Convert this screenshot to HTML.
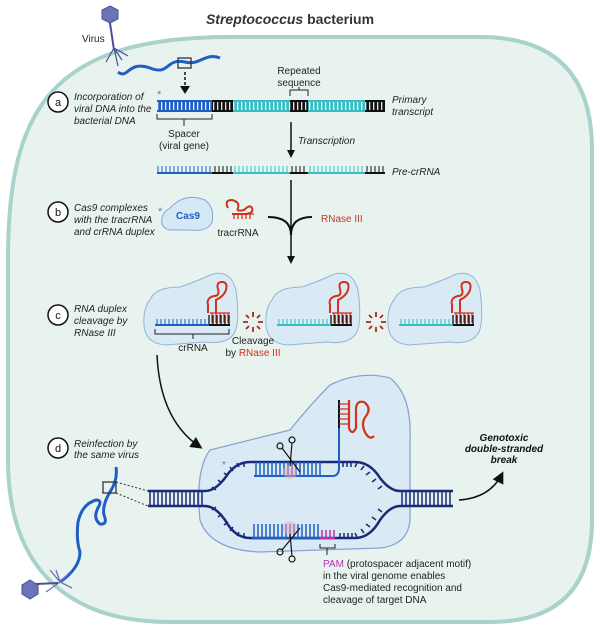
<!DOCTYPE html>
<html><head><meta charset="utf-8"><style>
html,body{margin:0;padding:0;background:#fff;}
svg{display:block;font-family:"Liberation Sans",sans-serif;}
.it{font-style:italic;font-size:10px;fill:#222;}
.t{font-size:10px;fill:#222;}
</style></head><body>
<svg width="600" height="633" viewBox="0 0 600 633" xmlns="http://www.w3.org/2000/svg">
<defs>
<pattern id="tk" width="4" height="20" patternUnits="userSpaceOnUse"><rect x="1" y="0" width="1.3" height="20" fill="#fff" opacity="0.9"/></pattern>
<marker id="ah" markerWidth="8" markerHeight="8" refX="6" refY="4" orient="auto"><path d="M0,0 L8,4 L0,8 z" fill="#111"/></marker>
</defs>
<!-- cell -->
<path d="M230,37 L480,37 Q592,37 592,150 L592,520 Q592,622 490,622 L170,622 C60,622 8,560 8,460 L8,260 C8,110 50,37 230,37 Z" fill="#e8f3f0" stroke="#a8d2cb" stroke-width="4"/>
<text x="290" y="24" text-anchor="middle" font-size="14" font-weight="bold" fill="#333"><tspan font-style="italic">Streptococcus</tspan> bacterium</text>

<!-- virus top -->
<polygon points="110,6 118,10 118,19 110,23 102,19 102,10" fill="#6d73b8" stroke="#4a4f97"/>
<line x1="110" y1="23" x2="114" y2="50" stroke="#4a4f97" stroke-width="2"/>
<path d="M114,48 L106,62 M114,48 L122,60 M114,48 L128,56 M114,48 L118,66" stroke="#4a4f97" stroke-width="1.2" fill="none"/>
<text x="82" y="42" class="t" fill="#555">Virus</text>
<path d="M118,72 C128,80 128,60 150,68 C170,76 165,58 185,62 C200,66 205,52 220,58" stroke="#1f5fc4" stroke-width="3" fill="none"/>
<rect x="178" y="58" width="13" height="10" fill="none" stroke="#333" stroke-width="1.3"/>
<line x1="185" y1="72" x2="185" y2="88" stroke="#111" stroke-width="1.5" stroke-dasharray="3,2"/>
<path d="M180,86 L185,94 L190,86z" fill="#111"/>

<!-- a -->
<circle cx="58" cy="102" r="10" fill="#fff" stroke="#111" stroke-width="1.5"/>
<text x="58" y="106" text-anchor="middle" font-size="11" fill="#111">a</text>
<text class="it"><tspan x="74" y="100">Incorporation of</tspan><tspan x="74" y="112">viral DNA into the</tspan><tspan x="74" y="124">bacterial DNA</tspan></text>
<text x="157" y="98" fill="#6d73b8" font-size="11">*</text>
<g>
<rect x="157" y="100" width="55" height="12" fill="#1f5fc4"/><rect x="212" y="100" width="21" height="12" fill="#111"/>
<rect x="233" y="100" width="57" height="12" fill="#35bfc4"/><rect x="290" y="100" width="18" height="12" fill="#111"/>
<rect x="308" y="100" width="57" height="12" fill="#35bfc4"/><rect x="365" y="100" width="20" height="12" fill="#111"/>
<rect x="157" y="102" width="228" height="8" fill="url(#tk)"/>
</g>
<text class="it"><tspan x="392" y="103">Primary</tspan><tspan x="392" y="115">transcript</tspan></text>
<text class="t" text-anchor="middle"><tspan x="299" y="74">Repeated</tspan><tspan x="299" y="86">sequence</tspan></text>
<path d="M290,96 L290,90 L308,90 L308,96 M299,90 L299,87" stroke="#222" fill="none"/>
<path d="M157,114 L157,119 L212,119 L212,114 M184,119 L184,126" stroke="#222" fill="none"/>
<text class="t" text-anchor="middle"><tspan x="184" y="137">Spacer</tspan><tspan x="184" y="149">(viral gene)</tspan></text>
<line x1="291" y1="122" x2="291" y2="151" stroke="#111" stroke-width="1.5"/>
<path d="M287,150 L291,158 L295,150z" fill="#111"/>
<text x="298" y="144" class="it">Transcription</text>
<!-- pre-crRNA -->
<g>
<rect x="157" y="172" width="55" height="2" fill="#1f5fc4"/><rect x="212" y="172" width="21" height="2" fill="#111"/>
<rect x="233" y="172" width="57" height="2" fill="#35bfc4"/><rect x="290" y="172" width="18" height="2" fill="#111"/>
<rect x="308" y="172" width="57" height="2" fill="#35bfc4"/><rect x="365" y="172" width="20" height="2" fill="#111"/>
<g stroke-width="1">
<path d="M158,172v-6M162,172v-6M166,172v-6M170,172v-6M174,172v-6M178,172v-6M182,172v-6M186,172v-6M190,172v-6M194,172v-6M198,172v-6M202,172v-6M206,172v-6M210,172v-6" stroke="#1f5fc4"/>
<path d="M215,172v-6M219,172v-6M223,172v-6M227,172v-6M231,172v-6M292,172v-6M296,172v-6M300,172v-6M304,172v-6M367,172v-6M371,172v-6M375,172v-6M379,172v-6M383,172v-6" stroke="#111"/>
<path d="M235,172v-6M239,172v-6M243,172v-6M247,172v-6M251,172v-6M255,172v-6M259,172v-6M263,172v-6M267,172v-6M271,172v-6M275,172v-6M279,172v-6M283,172v-6M287,172v-6M310,172v-6M314,172v-6M318,172v-6M322,172v-6M326,172v-6M330,172v-6M334,172v-6M338,172v-6M342,172v-6M346,172v-6M350,172v-6M354,172v-6M358,172v-6M362,172v-6" stroke="#35bfc4"/>
</g></g>
<text x="392" y="175" class="it">Pre-crRNA</text>
<!-- fork -->
<line x1="291" y1="180" x2="291" y2="258" stroke="#111" stroke-width="1.5"/>
<path d="M268,217 Q291,217 291,235 Q291,217 312,217" stroke="#111" stroke-width="2" fill="none"/>
<path d="M287,256 L291,264 L295,256z" fill="#111"/>
<text x="321" y="222" font-size="10" fill="#c0392b">RNase III</text>

<!-- b -->
<circle cx="58" cy="212" r="10" fill="#fff" stroke="#111" stroke-width="1.5"/>
<text x="58" y="216" text-anchor="middle" font-size="11" fill="#111">b</text>
<text class="it"><tspan x="74" y="211">Cas9 complexes</tspan><tspan x="74" y="223">with the tracrRNA</tspan><tspan x="74" y="235">and crRNA duplex</tspan></text>
<text x="158" y="215" fill="#6d73b8" font-size="11">*</text>
<path d="M170,208 Q185,192 205,200 Q215,208 212,222 Q208,232 190,230 L170,230 Q160,228 162,218 Q163,212 170,208Z" fill="#d5e8f6" stroke="#7ea8d6"/>
<text x="188" y="219" text-anchor="middle" font-size="10" font-weight="bold" fill="#1f5fc4">Cas9</text>
<path d="M228,208 Q224,200 232,200 Q240,202 238,208 Q236,212 244,210 Q250,204 252,208 Q254,213 246,214 L232,214" stroke="#d0321c" stroke-width="2" fill="none"/>
<path d="M234,214v5M238,214v5M242,214v5M246,214v5M250,214v5M232,214L254,214" stroke="#d0321c" stroke-width="1.3"/>
<text x="238" y="236" class="t" text-anchor="middle">tracrRNA</text>

<!-- c -->
<circle cx="58" cy="315" r="10" fill="#fff" stroke="#111" stroke-width="1.5"/>
<text x="58" y="319" text-anchor="middle" font-size="11" fill="#111">c</text>
<text class="it"><tspan x="74" y="312">RNA duplex</tspan><tspan x="74" y="324">cleavage by</tspan><tspan x="74" y="336">RNase III</tspan></text>
<g id="cx">
<path d="M150,300 Q155,287 180,287 Q200,280 210,275 Q230,268 236,290 Q240,320 235,332 Q228,345 205,342 L165,345 Q145,343 144,325 Q143,308 150,300Z" fill="#d9eaf5" stroke="#93b3d8"/>
<path d="M208,313 L208,305 Q206,298 214,296 Q220,296 218,289 Q216,282 222,282 Q228,282 226,290 Q224,296 216,300 L216,313" stroke="#d0321c" stroke-width="2" fill="none"/>
<path d="M210,313 L230,313 M212,313v10M216,313v10M220,313v10M224,313v10M228,313v10" stroke="#d0321c" stroke-width="1.3"/>
<path d="M209,325v-10M213,325v-10M217,325v-10M221,325v-10M225,325v-10M229,325v-10" stroke="#111" stroke-width="1.3"/>
<rect x="209" y="324" width="21" height="2" fill="#111"/>
</g>
<rect x="155" y="324" width="54" height="2" fill="#1f5fc4"/>
<path d="M157,325v-6M161,325v-6M165,325v-6M169,325v-6M173,325v-6M177,325v-6M181,325v-6M185,325v-6M189,325v-6M193,325v-6M197,325v-6M201,325v-6M205,325v-6" stroke="#1f5fc4"/>
<use href="#cx" x="122"/>
<rect x="277" y="324" width="54" height="2" fill="#35bfc4"/>
<path d="M279,325v-6M283,325v-6M287,325v-6M291,325v-6M295,325v-6M299,325v-6M303,325v-6M307,325v-6M311,325v-6M315,325v-6M319,325v-6M323,325v-6M327,325v-6" stroke="#35bfc4"/>
<use href="#cx" x="244"/>
<rect x="399" y="324" width="54" height="2" fill="#35bfc4"/>
<path d="M401,325v-6M405,325v-6M409,325v-6M413,325v-6M417,325v-6M421,325v-6M425,325v-6M429,325v-6M433,325v-6M437,325v-6M441,325v-6M445,325v-6M449,325v-6" stroke="#35bfc4"/>
<path d="M155,329 L155,334 L229,334 L229,329 M193,334 L193,339" stroke="#222" fill="none"/>
<text x="193" y="351" class="t" text-anchor="middle">crRNA</text>
<g stroke="#a3281b" stroke-width="1.8">
<path d="M253,312v5M253,327v5M243,322h5M258,322h5M246,315l3,3M260,315l-3,3M246,329l3,-3M260,329l-3,-3"/>
<path d="M376,312v5M376,327v5M366,322h5M381,322h5M369,315l3,3M383,315l-3,3M369,329l3,-3M383,329l-3,-3"/>
</g>
<text class="t" text-anchor="middle"><tspan x="253" y="344">Cleavage</tspan><tspan x="253" y="356">by <tspan fill="#d0321c">RNase III</tspan></tspan></text>

<!-- curved arrow -->
<path d="M157,355 Q160,420 200,447" stroke="#111" stroke-width="1.5" fill="none" marker-end="url(#ah)"/>

<!-- d -->
<circle cx="58" cy="448" r="10" fill="#fff" stroke="#111" stroke-width="1.5"/>
<text x="58" y="452" text-anchor="middle" font-size="11" fill="#111">d</text>
<text class="it"><tspan x="74" y="447">Reinfection by</tspan><tspan x="74" y="458">the same virus</tspan></text>

<!-- big blob -->
<path d="M210,450 Q250,440 290,430 Q310,405 330,385 Q360,370 390,378 Q412,395 410,440 L410,520 Q408,545 380,548 L260,552 Q210,550 200,520 Q195,470 210,450Z" fill="#d9eaf5" stroke="#8ba3d3" stroke-width="1.3"/>
<text x="222" y="468" fill="#6d73b8" font-size="10">*</text>
<!-- DNA duplex -->
<g stroke="#1a2a78" stroke-width="2.5" fill="none">
<path d="M148,491 L205,491 Q215,491 225,478 Q235,462 250,462 L355,462 Q370,462 380,478 Q390,491 400,491 L453,491"/>
<path d="M148,506 L205,506 Q215,506 225,520 Q235,538 250,538 L355,538 Q370,538 380,520 Q390,506 400,506 L453,506"/>
</g>
<g stroke="#1a2a78" stroke-width="1.5">
<path d="M150,491v15M154,491v15M158,491v15M162,491v15M166,491v15M170,491v15M174,491v15M178,491v15M182,491v15M186,491v15M190,491v15M194,491v15M198,491v15M202,491v15"/>
<path d="M402,491v15M406,491v15M410,491v15M414,491v15M418,491v15M422,491v15M426,491v15M430,491v15M434,491v15M438,491v15M442,491v15M446,491v15M450,491v15"/>
<path d="M212,487l4,3M218,480l4,3M224,473l4,3M230,467l3,4M237,463l2,4M244,462v5M343,462v5M347,462v5M351,462v5M357,463l-2,4M364,466l-3,4M370,472l-4,3M376,479l-4,3M382,486l-4,3"/>
<path d="M212,510l4,-3M218,517l4,-3M224,525l4,-3M230,531l3,-4M237,536l2,-4M244,538v-5M340,538v-5M344,538v-5M348,538v-5M352,538v-5M357,537l-2,-4M364,533l-3,-4M370,527l-4,-3M376,520l-4,-3M382,512l-4,-3"/>
</g>
<!-- crRNA top -->
<path d="M254,476 L332,476 Q339,476 339,468 L339,425" stroke="#1f5fc4" stroke-width="2" fill="none"/>
<path d="M256,462v14M260,462v14M264,462v14M268,462v14M272,462v14M276,462v14M280,462v14M284,462v14M288,462v14M292,462v14M296,462v14M300,462v14M304,462v14M308,462v14M312,462v14M316,462v14M320,462v14" stroke="#1f5fc4" stroke-width="1.5"/>
<line x1="339" y1="400" x2="339" y2="428" stroke="#111" stroke-width="2"/>
<path d="M339,404h10M339,409h10M339,414h10M339,419h10M339,424h10" stroke="#d0321c" stroke-width="1.3"/>
<path d="M349,400 L349,428 Q352,436 356,428 L356,410 Q356,400 364,402 Q372,408 366,416 Q360,424 366,434 Q370,440 374,436" stroke="#d0321c" stroke-width="2.2" fill="none"/>
<!-- bottom target -->
<rect x="252" y="537" width="68" height="2.5" fill="#1f5fc4"/>
<path d="M254,538v-14M258,538v-14M262,538v-14M266,538v-14M270,538v-14M274,538v-14M278,538v-14M282,538v-14M286,538v-14M290,538v-14M294,538v-14M298,538v-14M302,538v-14M306,538v-14M310,538v-14M314,538v-14M318,538v-14" stroke="#1f5fc4" stroke-width="1.5"/>
<rect x="320" y="537" width="15" height="2.5" fill="#b833b0"/>
<path d="M322,538v-8M326,538v-8M330,538v-8M334,538v-8" stroke="#b833b0" stroke-width="1.5"/>
<circle cx="290" cy="472" r="7" fill="#f2a8b8" opacity="0.5"/>
<circle cx="290" cy="528" r="7" fill="#f2a8b8" opacity="0.5"/>
<!-- scissors -->
<g stroke="#111" stroke-width="1.2" fill="none">
<path d="M282,448 L300,472 M292,443 L290,466"/><circle cx="280" cy="446" r="3"/><circle cx="292" cy="440" r="3"/>
<path d="M282,550 L300,528 M292,556 L290,534"/><circle cx="280" cy="552" r="3"/><circle cx="292" cy="559" r="3"/>
</g>
<path d="M320,544 L320,548 L335,548 L335,544 M327,548 L327,555" stroke="#222" fill="none"/>
<text class="t"><tspan x="323" y="567"><tspan fill="#b833b0">PAM</tspan> (protospacer adjacent motif)</tspan><tspan x="323" y="579">in the viral genome enables</tspan><tspan x="323" y="591">Cas9-mediated recognition and</tspan><tspan x="323" y="603">cleavage of target DNA</tspan></text>

<!-- genotoxic -->
<text font-size="10" font-style="italic" font-weight="bold" fill="#111" text-anchor="middle"><tspan x="504" y="441">Genotoxic</tspan><tspan x="504" y="452">double-stranded</tspan><tspan x="504" y="463">break</tspan></text>
<path d="M459,500 Q490,498 502,474" stroke="#111" stroke-width="1.5" fill="none" marker-end="url(#ah)"/>

<!-- reinfection virus -->
<path d="M116,467 Q118,480 110,492 Q102,505 104,515 Q108,525 100,524 Q92,518 99,506 Q102,500 96,500 Q82,504 78,522 Q76,540 80,552 Q80,568 60,582" stroke="#1f5fc4" stroke-width="3" fill="none"/>
<rect x="103" y="482" width="13" height="11" fill="none" stroke="#333" stroke-width="1.3"/>
<path d="M116,482 L148,491 M116,493 L148,506" stroke="#333" stroke-dasharray="2,2"/>
<path d="M60,582 L46,592 M60,582 L50,570 M60,582 L70,572 M60,582 L72,588 M60,582 L56,570" stroke="#6d73b8" stroke-width="1.3"/>
<polygon points="30,580 38,585 38,594 30,599 22,594 22,585" fill="#6d73b8" stroke="#4a4f97"/>
<line x1="36" y1="584" x2="58" y2="583" stroke="#4a4f97" stroke-width="2"/>
</svg>
</body></html>
